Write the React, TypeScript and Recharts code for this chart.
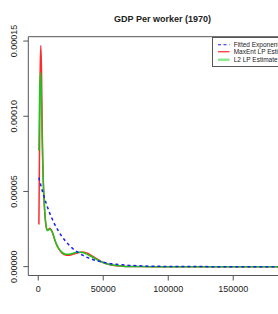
import React from "react";
import { LineChart, Line, XAxis, YAxis, ReferenceArea } from "recharts";

// GDP per worker, 1970 -- three density estimates
const X_VALUES = [
  500, 1000, 1500, 2000, 2500, 3000, 3500, 4000,
  5000, 6000, 7000, 8000, 9000, 10000, 11000, 12000, 13000, 14000,
  16000, 18000, 20000, 22000, 24000, 26000, 28000, 30000,
  32000, 34000, 36000, 38000, 40000,
  44000, 48000, 52000, 56000, 60000,
  65000, 70000, 80000, 90000, 100000,
  120000, 140000, 160000, 180000, 190000,
];

const MAXENT = [
  2.8e-5, 8.0e-5, 1.3e-4, 1.47e-4, 1.3e-4, 9.5e-5, 7.0e-5, 5.4e-5,
  3.6e-5, 2.7e-5, 2.45e-5, 2.5e-5, 2.55e-5, 2.45e-5, 2.25e-5, 1.98e-5, 1.7e-5, 1.48e-5,
  1.15e-5, 9.3e-6, 8.0e-6, 7.6e-6, 7.6e-6, 8.0e-6, 8.6e-6, 9.1e-6,
  9.5e-6, 9.7e-6, 9.5e-6, 8.9e-6, 7.9e-6,
  5.7e-6, 3.6e-6, 2.1e-6, 1.1e-6, 6e-7,
  2.5e-7, 1e-7, 2e-8, 0, 0,
  0, 0, 0, 0, 0,
];

const L2 = [
  7.7e-5, 1.12e-4, 1.29e-4, 1.25e-4, 1.08e-4, 8.5e-5, 6.7e-5, 5.4e-5,
  3.7e-5, 2.75e-5, 2.4e-5, 2.45e-5, 2.5e-5, 2.42e-5, 2.25e-5, 2.0e-5, 1.72e-5, 1.5e-5,
  1.18e-5, 9.8e-6, 8.6e-6, 8.2e-6, 8.3e-6, 8.7e-6, 9.2e-6, 9.5e-6,
  9.6e-6, 9.4e-6, 8.8e-6, 8.0e-6, 7.1e-6,
  5.2e-6, 3.4e-6, 2.1e-6, 1.2e-6, 7e-7,
  3.5e-7, 1.6e-7, 4e-8, 1e-8, 0,
  0, 0, 0, 0, 0,
];

const EXPO = [
  5.92e-5, 5.74e-5, 5.57e-5, 5.4e-5, 5.24e-5, 5.08e-5, 4.93e-5, 4.78e-5,
  4.5e-5, 4.23e-5, 3.98e-5, 3.75e-5, 3.52e-5, 3.31e-5, 3.12e-5, 2.93e-5, 2.76e-5, 2.6e-5,
  2.3e-5, 2.03e-5, 1.8e-5, 1.59e-5, 1.41e-5, 1.25e-5, 1.1e-5, 9.8e-6,
  8.7e-6, 7.7e-6, 6.8e-6, 6.0e-6, 5.3e-6,
  4.2e-6, 3.3e-6, 2.6e-6, 2.0e-6, 1.6e-6,
  1.2e-6, 8.5e-7, 4.6e-7, 2.5e-7, 1.4e-7,
  4e-8, 1e-8, 0, 0, 0,
];

const X_TICKS = [0, 50000, 100000, 150000];
const Y_TICKS = [0, 0.00005, 0.0001, 0.00015];
const Y_TICK_LABELS = ["0.00000", "0.00005", "0.00010", "0.00015"];

const TITLE = "GDP Per worker (1970)";
const LEGEND_LABELS = ["Fitted Exponential", "MaxEnt LP Estimate", "L2 LP Estimate"];

const X_DOMAIN = [-7650, 198900];
const Y_DOMAIN = [-5.88e-6, 1.5288e-4];

const FONT = "'Liberation Sans', Arial, Helvetica, sans-serif";
const INK = "#222";
const FRAME = "#555";
const RED = "#ff2a2a";
const GREEN = "#1fc41f";
const BLUE = "#1a1aff";

const data = X_VALUES.map((x, i) => ({
  x,
  maxent: MAXENT[i],
  l2: L2[i],
  expo: EXPO[i],
}));

const XTick = (props: any) => {
  const { x, y, payload } = props;
  return (
    <text x={x} y={y} dy="0.71em" textAnchor="middle" fontSize={9} fill={INK} fontFamily={FONT}>
      {payload.value}
    </text>
  );
};

const YTick = (props: any) => {
  const { x, y, payload } = props;
  const idx = Y_TICKS.indexOf(payload.value);
  return (
    <text
      x={x}
      y={y}
      transform={`rotate(-90, ${x}, ${y})`}
      textAnchor="middle"
      fontSize={9}
      fill={INK}
      fontFamily={FONT}
    >
      {Y_TICK_LABELS[idx]}
    </text>
  );
};

const legendStyles = [
  { color: BLUE, width: 1.2, dash: "3 2.5" },
  { color: RED, width: 1.2, dash: undefined },
  { color: "#8fe88f", width: 2.5, dash: undefined },
];

export default function App() {
  return (
    <div
      style={{
        position: "absolute",
        left: 0,
        top: 0,
        width: 278,
        height: 314,
        overflow: "hidden",
        background: "#fff",
      }}
    >
      <div
        style={{
          position: "absolute",
          left: 0,
          top: 14,
          width: 325,
          textAlign: "center",
          fontFamily: FONT,
          fontWeight: "bold",
          fontSize: 9,
          color: INK,
        }}
      >
        {TITLE}
      </div>

      <LineChart
        width={320}
        height={314}
        data={data}
        margin={{ top: 36.7, left: 27.3, right: 23.2, bottom: 37.5 }}
      >
        <XAxis
          dataKey="x"
          type="number"
          domain={X_DOMAIN}
          ticks={X_TICKS}
          allowDataOverflow
          height={1}
          axisLine={false}
          tickLine={{ stroke: FRAME }}
          tickSize={5}
          tickMargin={5.5}
          tick={<XTick />}
          interval={0}
        />
        <YAxis
          type="number"
          domain={Y_DOMAIN}
          ticks={Y_TICKS}
          allowDataOverflow
          width={1}
          axisLine={false}
          tickLine={{ stroke: FRAME }}
          tickSize={5}
          tickMargin={5.8}
          tick={<YTick />}
          interval={0}
        />
        <ReferenceArea
          x1={X_DOMAIN[0]}
          x2={X_DOMAIN[1]}
          y1={Y_DOMAIN[0]}
          y2={Y_DOMAIN[1]}
          fill="none"
          fillOpacity={0}
          stroke={FRAME}
          strokeWidth={1}
        />
        <Line dataKey="maxent" type="monotone" stroke={RED} strokeWidth={1.5} dot={false} isAnimationActive={false} />
        <Line dataKey="l2" type="monotone" stroke={GREEN} strokeWidth={1.5} dot={false} isAnimationActive={false} />
        <Line
          dataKey="expo"
          type="monotone"
          stroke={BLUE}
          strokeWidth={1.5}
          strokeDasharray="3 3"
          dot={false}
          isAnimationActive={false}
        />
      </LineChart>

      <div
        style={{
          position: "absolute",
          left: 211.7,
          top: 36.7,
          width: 85,
          height: 30,
          boxSizing: "border-box",
          border: `1px solid ${FRAME}`,
          background: "#fff",
          fontFamily: FONT,
          fontSize: 6.5,
          color: INK,
        }}
      >
        {LEGEND_LABELS.map((label, i) => (
          <div
            key={label}
            style={{
              position: "absolute",
              left: 4,
              top: 3 + i * 7.5,
              height: 7.5,
              display: "flex",
              alignItems: "center",
              whiteSpace: "nowrap",
            }}
          >
            <svg width={17} height={7.5} style={{ display: "block" }}>
              <line
                x1={1}
                x2={12.5}
                y1={3.75}
                y2={3.75}
                stroke={legendStyles[i].color}
                strokeWidth={legendStyles[i].width}
                strokeDasharray={legendStyles[i].dash}
              />
            </svg>
            <span>{label}</span>
          </div>
        ))}
      </div>
    </div>
  );
}
